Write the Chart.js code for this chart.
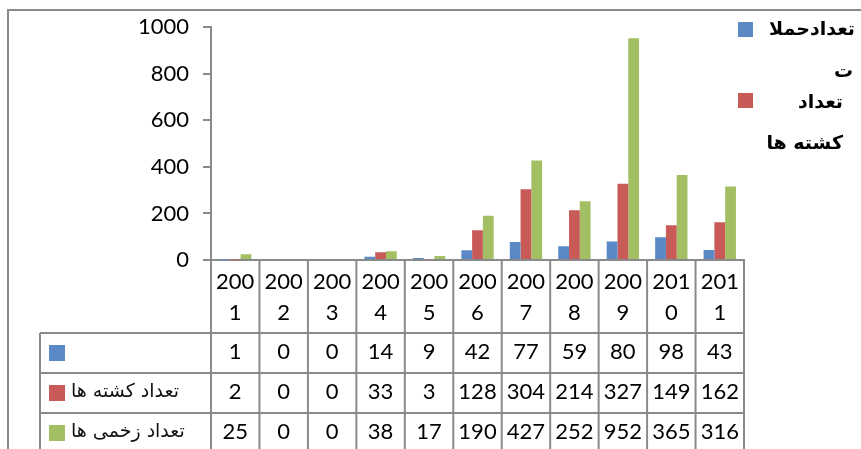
<!DOCTYPE html>
<html>
<head>
<meta charset="utf-8">
<script src="https://cdn.jsdelivr.net/npm/chart.js@4/dist/chart.umd.min.js"></script>
<style>
    body { margin: 0; background: #fff; }
    #wrap { width: 861px; height: 449px; }
</style>
</head>
<body>
<div id="wrap"><canvas id="chart" width="861" height="449"></canvas></div>
<script>
    "use strict";

    // data
    const years = ['2001', '2002', '2003', '2004', '2005', '2006', '2007', '2008', '2009', '2010', '2011'];
    const attacks = [1, 0, 0, 14, 9, 42, 77, 59, 80, 98, 43];
    const killed = [2, 0, 0, 33, 3, 128, 304, 214, 327, 149, 162];
    const injured = [25, 0, 0, 38, 17, 190, 427, 252, 952, 365, 316];

    const seriesNames = ['تعدادحملات', 'تعداد کشته ها', 'تعداد زخمی ها'];
    const tableRowNames = ['', 'تعداد کشته ها', 'تعداد زخمی ها'];
    // legend as it wraps in the picture (only two entries fit)
    const legendLines = [['تعدادحملا', 'ت'], ['تعداد', 'کشته ها']];

    const yMin = 0, yMax = 1000, yStep = 200;

    const colors = ['#5b89c5', '#c85b58', '#a2bf63'];
    const lineColor = '#8a8a8a';
    const numFont = '22px Lato';
    const faFont = '19px "DejaVu Sans"';
    const faBold = 'bold 19px "DejaVu Sans"';

    // draws the data table, the legend and the frame
    const tablePlugin = {
        id: 'dataTable',
        afterDraw(chart) {
            const ctx = chart.ctx;
            const x = chart.scales.x;
            const top = x.top;
            const rows = [333, 373, 413, 453];
            const tableLeft = 40;
            const colW = x.getPixelForValue(1) - x.getPixelForValue(0);
            const series = [attacks, killed, injured];

            ctx.save();
            ctx.strokeStyle = lineColor;
            ctx.lineWidth = 2;

            // frame
            ctx.beginPath();
            ctx.moveTo(8, 449);
            ctx.lineTo(8, 10);
            ctx.lineTo(861, 10);
            ctx.stroke();

            // column lines
            ctx.beginPath();
            for (let i = 0; i <= years.length; i++) {
                const px = x.getPixelForValue(i) - colW / 2;
                ctx.moveTo(px, top);
                ctx.lineTo(px, 449);
            }
            ctx.moveTo(tableLeft, rows[0]);
            ctx.lineTo(tableLeft, 449);
            for (let r = 0; r < 3; r++) {
                ctx.moveTo(tableLeft, rows[r]);
                ctx.lineTo(x.right, rows[r]);
            }
            ctx.stroke();

            // values
            ctx.fillStyle = '#000';
            ctx.font = numFont;
            ctx.textAlign = 'center';
            ctx.textBaseline = 'middle';
            series.forEach(function (vals, r) {
                const cy = (rows[r] + rows[r + 1]) / 2 - 1;
                vals.forEach(function (v, i) {
                    ctx.fillText(String(v), x.getPixelForValue(i), cy);
                });
            });

            // row labels
            series.forEach(function (vals, r) {
                const cy = (rows[r] + rows[r + 1]) / 2;
                ctx.fillStyle = colors[r];
                ctx.fillRect(49, cy - 8, 16, 16);
                ctx.fillStyle = '#111';
                ctx.font = faFont;
                ctx.textAlign = 'left';
                ctx.fillText(tableRowNames[r], 71, cy - 1);
            });

            // legend
            ctx.font = faBold;
            ctx.textAlign = 'right';
            const legendY = [[30, 72], [103, 144]];
            const legendRight = [[855, 853], [843, 843]];
            legendLines.forEach(function (lines, k) {
                ctx.fillStyle = colors[k];
                ctx.fillRect(738, legendY[k][0] - 8 + (k ? -2 : 0), 15, 15);
                ctx.fillStyle = '#000';
                lines.forEach(function (txt, j) {
                    ctx.fillText(txt, legendRight[k][j], legendY[k][j]);
                });
            });
            ctx.restore();
        }
    };

    new Chart(document.getElementById('chart'), {
        type: 'bar',
        data: {
            labels: years,
            datasets: [
                { label: seriesNames[0], data: attacks, backgroundColor: colors[0] },
                { label: seriesNames[1], data: killed, backgroundColor: colors[1] },
                { label: seriesNames[2], data: injured, backgroundColor: colors[2] }
            ]
        },
        options: {
            responsive: false,
            animation: false,
            devicePixelRatio: 1,
            categoryPercentage: 0.667,
            barPercentage: 1,
            layout: { padding: { top: 26, right: 117, left: 0, bottom: 0 } },
            plugins: {
                legend: { display: false },
                tooltip: { enabled: false }
            },
            scales: {
                y: {
                    min: yMin,
                    max: yMax,
                    ticks: {
                        stepSize: yStep,
                        color: '#000',
                        font: { family: 'Lato', size: 22 },
                        padding: 14,
                        callback: function (v) { return String(v); }
                    },
                    grid: { drawOnChartArea: false, drawTicks: true, tickLength: 8, color: lineColor, lineWidth: 2 },
                    border: { color: lineColor, width: 2 },
                    afterFit: function (s) { s.width = 211; }
                },
                x: {
                    ticks: {
                        color: '#000',
                        font: { family: 'Lato', size: 22, lineHeight: 1.42 },
                        padding: 6,
                        maxRotation: 0,
                        callback: function (v, i) {
                            const y = years[i];
                            return [y.slice(0, 3), y.slice(3)];
                        }
                    },
                    grid: { display: false, drawTicks: false },
                    border: { color: lineColor, width: 2 },
                    afterFit: function (s) { s.height = 189; }
                }
            }
        },
        plugins: [tablePlugin]
    });
</script>
</body>
</html>
